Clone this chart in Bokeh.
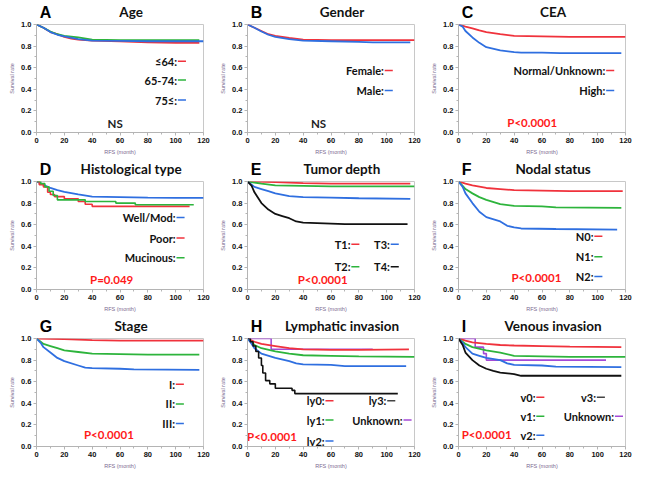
from bokeh.plotting import figure
from bokeh.layouts import column, row
from bokeh.models import Range1d, FixedTicker, PrintfTickFormatter
from bokeh.core.properties import value
from bokeh.embed import file_html
from bokeh.resources import INLINE

RED = "#f0323c"
GREEN = "#2db43c"
BLUE = "#2f6fe0"
BLACK = "#111111"
PURPLE = "#a54ad6"

# ---------------- data ----------------
# A Age
A_le64_t = [0, 5, 10, 15, 20, 25, 30, 40, 60, 80, 100, 117]
A_le64_s = [1.0, 0.97, 0.93, 0.91, 0.885, 0.87, 0.86, 0.85, 0.845, 0.835, 0.83, 0.83]
A_6574_t = [0, 5, 10, 15, 20, 30, 40, 60, 80, 100, 117]
A_6574_s = [1.0, 0.97, 0.935, 0.91, 0.895, 0.88, 0.86, 0.855, 0.855, 0.855, 0.855]
A_75_t = [0, 5, 10, 15, 20, 30, 40, 60, 80, 100, 120]
A_75_s = [1.0, 0.97, 0.93, 0.905, 0.89, 0.865, 0.85, 0.848, 0.845, 0.845, 0.845]
# B Gender
B_fem_t = [0, 5, 10, 15, 20, 30, 40, 60, 80, 100, 120]
B_fem_s = [1.0, 0.97, 0.94, 0.91, 0.895, 0.875, 0.86, 0.855, 0.855, 0.855, 0.855]
B_male_t = [0, 5, 10, 15, 20, 30, 40, 60, 80, 90, 117]
B_male_s = [1.0, 0.97, 0.935, 0.905, 0.885, 0.865, 0.85, 0.845, 0.84, 0.835, 0.835]
# C CEA
C_norm_t = [0, 5, 10, 15, 20, 30, 40, 60, 80, 120]
C_norm_s = [1.0, 0.98, 0.965, 0.945, 0.93, 0.91, 0.895, 0.89, 0.885, 0.885]
C_high_t = [0, 3, 5, 10, 15, 20, 30, 40, 45, 60, 73, 117]
C_high_s = [1.0, 0.98, 0.94, 0.88, 0.83, 0.79, 0.76, 0.745, 0.74, 0.74, 0.735, 0.735]
# D Histological type
D_well_t = [0, 5, 10, 15, 20, 30, 40, 60, 80, 100, 120]
D_well_s = [1.0, 0.97, 0.94, 0.92, 0.905, 0.88, 0.86, 0.855, 0.85, 0.848, 0.848]
D_poor_t = [0, 2, 5, 8, 10, 13, 20, 30, 35, 40, 110]
D_poor_s = [1.0, 0.97, 0.95, 0.90, 0.88, 0.86, 0.84, 0.815, 0.79, 0.77, 0.77]
D_muc_t = [0, 3, 6, 9, 12, 15, 35, 57, 71, 113]
D_muc_s = [1.0, 0.98, 0.95, 0.91, 0.87, 0.83, 0.815, 0.80, 0.785, 0.785]
# E Tumor depth
E_t1_t = [0, 20, 40, 60, 117]
E_t1_s = [1.0, 0.995, 0.985, 0.98, 0.98]
E_t2_t = [0, 10, 20, 40, 60, 120]
E_t2_s = [1.0, 0.98, 0.965, 0.96, 0.955, 0.955]
E_t3_t = [0, 3, 5, 10, 15, 20, 30, 40, 60, 80, 117]
E_t3_s = [1.0, 0.97, 0.95, 0.93, 0.91, 0.89, 0.865, 0.855, 0.85, 0.845, 0.84]
E_t4_t = [0, 3, 5, 10, 15, 20, 25, 30, 35, 40, 60, 70, 115]
E_t4_s = [1.0, 0.96, 0.9, 0.8, 0.74, 0.70, 0.68, 0.66, 0.63, 0.62, 0.61, 0.605, 0.605]
# F Nodal status
F_n0_t = [0, 5, 10, 20, 30, 40, 60, 80, 118]
F_n0_s = [1.0, 0.98, 0.965, 0.94, 0.93, 0.92, 0.915, 0.91, 0.91]
F_n1_t = [0, 3, 5, 10, 15, 20, 30, 40, 60, 70, 117]
F_n1_s = [1.0, 0.96, 0.93, 0.89, 0.855, 0.83, 0.79, 0.775, 0.77, 0.76, 0.755]
F_n2_t = [0, 3, 5, 10, 15, 20, 30, 35, 40, 45, 70, 114]
F_n2_s = [1.0, 0.95, 0.89, 0.8, 0.72, 0.67, 0.63, 0.59, 0.575, 0.565, 0.56, 0.555]
# G Stage
G_i_t = [0, 20, 40, 60, 120]
G_i_s = [1.0, 0.995, 0.985, 0.98, 0.98]
G_ii_t = [0, 3, 5, 10, 15, 20, 30, 40, 60, 80, 117]
G_ii_s = [1.0, 0.97, 0.95, 0.93, 0.91, 0.89, 0.875, 0.86, 0.855, 0.85, 0.85]
G_iii_t = [0, 3, 5, 10, 15, 20, 30, 35, 40, 60, 70, 117]
G_iii_s = [1.0, 0.96, 0.92, 0.87, 0.82, 0.79, 0.75, 0.73, 0.725, 0.72, 0.715, 0.71]
# H Lymphatic invasion
H_ly0_t = [0, 5, 10, 20, 30, 40, 60, 80, 116]
H_ly0_s = [1.0, 0.97, 0.95, 0.93, 0.91, 0.90, 0.895, 0.895, 0.9]
H_ly1_t = [0, 5, 10, 20, 30, 40, 60, 80, 120]
H_ly1_s = [1.0, 0.94, 0.91, 0.88, 0.86, 0.845, 0.84, 0.835, 0.83]
H_ly2_t = [0, 3, 5, 10, 20, 30, 35, 40, 60, 70, 114]
H_ly2_s = [1.0, 0.95, 0.91, 0.86, 0.82, 0.79, 0.77, 0.76, 0.755, 0.745, 0.745]
H_ly3_t = [0, 2, 4, 6, 8, 10, 11, 13, 16, 20, 32, 34, 108]
H_ly3_s = [1.0, 0.97, 0.93, 0.88, 0.82, 0.75, 0.68, 0.61, 0.58, 0.54, 0.52, 0.49, 0.49]
H_unk_t = [0, 17, 90]
H_unk_s = [1.0, 0.9, 0.9]
# I Venous invasion
I_v0_t = [0, 5, 10, 20, 30, 40, 60, 80, 117]
I_v0_s = [1.0, 0.98, 0.965, 0.95, 0.94, 0.935, 0.93, 0.925, 0.92]
I_v1_t = [0, 5, 10, 20, 30, 40, 60, 80, 120]
I_v1_s = [1.0, 0.95, 0.92, 0.89, 0.87, 0.84, 0.835, 0.83, 0.83]
I_v2_t = [0, 3, 5, 10, 15, 20, 30, 35, 40, 60, 70, 117]
I_v2_s = [1.0, 0.96, 0.92, 0.86, 0.84, 0.82, 0.80, 0.77, 0.755, 0.75, 0.74, 0.735]
I_v3_t = [0, 3, 5, 10, 15, 20, 25, 30, 40, 45, 117]
I_v3_s = [1.0, 0.94, 0.87, 0.80, 0.75, 0.72, 0.70, 0.685, 0.67, 0.655, 0.655]
I_unk_t = [0, 12, 18, 20, 106]
I_unk_s = [1.0, 0.92, 0.86, 0.80, 0.80]

x_ticks = [0, 20, 40, 60, 80, 100, 120]
y_ticks = [0.0, 0.2, 0.4, 0.6, 0.8, 1.0]

panels = [
    ("A", "Age",
     [(A_le64_t, A_le64_s, RED, "line"), (A_6574_t, A_6574_s, GREEN, "line"), (A_75_t, A_75_s, BLUE, "line")],
     [("≤64:", 101, 0.66, RED), ("65-74:", 101, 0.485, GREEN), ("75≤:", 101, 0.30, BLUE)],
     ("NS", 56.5, 0.08, "#222222")),
    ("B", "Gender",
     [(B_fem_t, B_fem_s, RED, "line"), (B_male_t, B_male_s, BLUE, "line")],
     [("Female:", 98, 0.575, RED), ("Male:", 98, 0.39, BLUE)],
     ("NS", 51, 0.08, "#222222")),
    ("C", "CEA",
     [(C_norm_t, C_norm_s, RED, "line"), (C_high_t, C_high_s, BLUE, "line")],
     [("Normal/Unknown:", 105.5, 0.575, RED), ("High:", 105.5, 0.39, BLUE)],
     ("P<0.0001", 53, 0.09, "#ff1a1a")),
    ("D", "Histological type",
     [(D_well_t, D_well_s, BLUE, "line"), (D_poor_t, D_poor_s, RED, "step"), (D_muc_t, D_muc_s, GREEN, "step")],
     [("Well/Mod:", 100, 0.667, BLUE), ("Poor:", 100, 0.476, RED), ("Mucinous:", 100, 0.294, GREEN)],
     ("P=0.049", 54, 0.094, "#ff1a1a")),
    ("E", "Tumor depth",
     [(E_t1_t, E_t1_s, RED, "line"), (E_t2_t, E_t2_s, GREEN, "line"), (E_t3_t, E_t3_s, BLUE, "line"), (E_t4_t, E_t4_s, BLACK, "line")],
     [("T1:", 74, 0.42, RED), ("T2:", 74, 0.21, GREEN), ("T3:", 102.3, 0.42, BLUE), ("T4:", 102.3, 0.21, BLACK)],
     ("P<0.0001", 54, 0.094, "#ff1a1a")),
    ("F", "Nodal status",
     [(F_n0_t, F_n0_s, RED, "line"), (F_n1_t, F_n1_s, GREEN, "line"), (F_n2_t, F_n2_s, BLUE, "line")],
     [("N0:", 97, 0.494, RED), ("N1:", 97, 0.303, GREEN), ("N2:", 97, 0.121, BLUE)],
     ("P<0.0001", 56, 0.115, "#ff1a1a")),
    ("G", "Stage",
     [(G_i_t, G_i_s, RED, "line"), (G_ii_t, G_ii_s, GREEN, "line"), (G_iii_t, G_iii_s, BLUE, "line")],
     [("I:", 99.5, 0.577, RED), ("II:", 99.5, 0.394, GREEN), ("III:", 99.5, 0.213, BLUE)],
     ("P<0.0001", 52, 0.11, "#ff1a1a")),
    ("H", "Lymphatic invasion",
     [(H_unk_t, H_unk_s, PURPLE, "step"), (H_ly0_t, H_ly0_s, RED, "line"), (H_ly1_t, H_ly1_s, GREEN, "line"),
      (H_ly2_t, H_ly2_s, BLUE, "line"), (H_ly3_t, H_ly3_s, BLACK, "step")],
     [("ly0:", 55.4, 0.424, RED), ("ly1:", 55.4, 0.245, GREEN), ("ly2:", 55.4, 0.05, BLUE),
      ("ly3:", 99.8, 0.424, "#444444"), ("Unknown:", 111.5, 0.245, PURPLE)],
     ("P<0.0001", 17.6, 0.09, "#ff1a1a")),
    ("I", "Venous invasion",
     [(I_unk_t, I_unk_s, PURPLE, "step"), (I_v0_t, I_v0_s, RED, "line"), (I_v1_t, I_v1_s, GREEN, "line"),
      (I_v2_t, I_v2_s, BLUE, "line"), (I_v3_t, I_v3_s, BLACK, "line")],
     [("v0:", 55.3, 0.455, RED), ("v1:", 55.3, 0.28, GREEN), ("v2:", 55.3, 0.105, BLUE),
      ("v3:", 98.8, 0.455, "#444444"), ("Unknown:", 111.8, 0.28, PURPLE)],
     ("P<0.0001", 20.2, 0.11, "#ff1a1a")),
]

W = 211          # cell width
HH = 19          # header (letter + title) height
HM = 138         # plot height
FL, FR = 36, 8   # left / right borders of the plot frame
cells = []
for letter, title, curves, legend, ptxt in panels:
    # header strip: panel letter and centred title
    hd = figure(width=W, height=HH, output_backend="svg", toolbar_location=None,
                x_range=Range1d(0, W), y_range=Range1d(0, HH),
                min_border_left=0, min_border_right=0, min_border_top=0, min_border_bottom=0)
    hd.axis.visible = False
    hd.grid.visible = False
    hd.outline_line_color = None
    hd.text([4], [HH - 11.5], text=[letter], text_font=value("Liberation Sans"), text_font_style="bold",
            text_font_size="16px", text_align="left", text_baseline="middle", text_color="#000000")
    hd.text([FL + (W - FL - FR) / 2], [HH - 11.5], text=[title], text_font=value("Lato"),
            text_font_style="bold", text_font_size="13.5px", text_align="center",
            text_baseline="middle", text_color="#111111")

    p = figure(width=W, height=HM, output_backend="svg", toolbar_location=None,
               x_range=Range1d(0, 120), y_range=Range1d(0, 1),
               min_border_left=FL, min_border_right=FR, min_border_top=5, min_border_bottom=24)
    p.grid.visible = False
    p.outline_line_color = "#c8c8c8"
    for ax in (p.xaxis[0], p.yaxis[0]):
        ax.axis_line_color = "#b4b4b4"
        ax.major_tick_line_color = "#b4b4b4"
        ax.minor_tick_line_color = "#b4b4b4"
        ax.major_tick_in = 0
        ax.major_tick_out = 3
        ax.minor_tick_in = 0
        ax.minor_tick_out = 2
        ax.major_label_text_font = "Liberation Sans"
        ax.major_label_text_font_style = "bold"
        ax.major_label_text_font_size = "7.5px"
        ax.major_label_text_color = "#111111"
        ax.axis_label_text_font = "Liberation Sans"
        ax.axis_label_text_font_style = "normal"
        ax.axis_label_text_font_size = "5.5px"
        ax.axis_label_text_color = "#7a6a90"
        ax.axis_label_standoff = 3
        ax.major_label_standoff = 2
    p.xaxis.ticker = FixedTicker(ticks=x_ticks, minor_ticks=list(range(0, 121, 10)))
    p.yaxis.ticker = FixedTicker(ticks=y_ticks, minor_ticks=[i / 10 for i in range(11)])
    p.yaxis.formatter = PrintfTickFormatter(format="%.1f")
    p.xaxis.axis_label = "RFS (month)"
    p.yaxis.axis_label = "Survival rate"

    for t, s, c, mode in curves:
        if mode == "step":
            p.step(t, s, line_color=c, line_width=1.6, mode="after")
        else:
            p.line(t, s, line_color=c, line_width=1.8)

    for txt, xr, yr, c in legend:
        p.text([xr], [yr], text=[txt], text_font=value("Lato"), text_font_style="bold",
               text_font_size="11px", text_align="right", text_baseline="middle", text_color="#111111")
        p.segment([xr + 0.6], [yr], [xr + 6.4], [yr], line_color=c, line_width=1.5)

    ptext, px, py, pc = ptxt
    p.text([px], [py], text=[ptext], text_font=value("Lato"), text_font_style="bold",
           text_font_size="11.5px", text_align="center", text_baseline="middle", text_color=pc)

    cells.append(column(hd, p, spacing=0))

layout = column(row(*cells[0:3], spacing=0), row(*cells[3:6], spacing=0), row(*cells[6:9], spacing=0), spacing=0)
open("out.html", "w").write(file_html(layout, INLINE))
